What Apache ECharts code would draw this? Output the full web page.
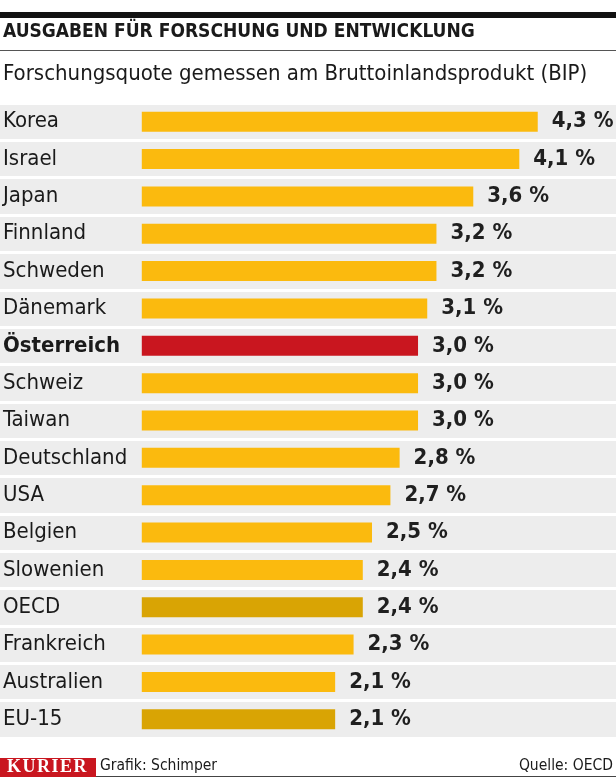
<!DOCTYPE html>
<html>
<head>
<meta charset="utf-8">
<script src="https://cdn.jsdelivr.net/npm/echarts@6/dist/echarts.min.js"></script>
<style>
html,body{margin:0;padding:0;background:#fff;}
#chart{width:616px;height:777px;}
</style>
</head>
<body>
<div id="chart"></div>
<script>
const categories = ["Korea","Israel","Japan","Finnland","Schweden","Dänemark","Österreich","Schweiz","Taiwan","Deutschland","USA","Belgien","Slowenien","OECD","Frankreich","Australien","EU-15"];
const values = [4.3,4.1,3.6,3.2,3.2,3.1,3.0,3.0,3.0,2.8,2.7,2.5,2.4,2.4,2.3,2.1,2.1];
const kinds = ["c","c","c","c","c","c","h","c","c","c","c","c","c","a","c","c","a"];
const titleText = "AUSGABEN FÜR FORSCHUNG UND ENTWICKLUNG";
const subtitleText = "Forschungsquote gemessen am Bruttoinlandsprodukt (BIP)";
const footerLeft = "Grafik: Schimper";
const footerRight = "Quelle: OECD";
const brandText = "KURIER";

const FONT = '"DejaVu Sans Condensed","Liberation Sans Narrow",sans-serif';
const kindColor = {c:'#fbba0e', h:'#c9161f', a:'#d9a404'};

const chart = echarts.init(document.getElementById('chart'), null, {renderer:'canvas'});
chart.setOption({
  animation:false,
  backgroundColor:'#ffffff',
  grid:{left:0, right:0, top:103, height:635},
  xAxis:{type:'value', min:-1.54, max:5.15, show:false},
  yAxis:{
    type:'category', inverse:true, data:categories,
    axisLine:{show:false}, axisTick:{show:false},
    splitArea:{show:true, areaStyle:{color:['#ededed','#ededed']}},
    splitLine:{show:true, lineStyle:{color:'#ffffff', width:3}},
    axisLabel:{
      inside:true, margin:3, align:'left', color:'#1a1a1a',
      fontFamily:FONT, fontSize:22,
      formatter:function(v){ const i=categories.indexOf(v); return kinds[i]==='h' ? '{b|'+v+'}' : v; },
      rich:{b:{fontWeight:'bold', fontFamily:FONT, fontSize:22, color:'#1a1a1a'}}
    }
  },
  series:[{
    type:'bar', barWidth:20, z:3,
    data: values.map((v,i)=>({value:v, itemStyle:{color:kindColor[kinds[i]]}})),
    label:{show:true, position:'right', distance:14, color:'#1f1f1f',
      fontFamily:FONT, fontWeight:'bold', fontSize:22,
      formatter:p=>p.value.toFixed(1).replace('.',',')+' %'}
  }],
  graphic:[
    {type:'rect', shape:{x:0,y:12,width:616,height:6}, style:{fill:'#111'}},
    {type:'text', left:3, top:23, style:{text:titleText, fontFamily:FONT, fontWeight:'bold', fontSize:19, fill:'#1a1a1a'}},
    {type:'rect', shape:{x:0,y:50,width:616,height:1}, style:{fill:'#555'}},
    {type:'text', left:3, top:63, style:{text:subtitleText, fontFamily:FONT, fontSize:22, fill:'#1a1a1a'}},
    {type:'rect', shape:{x:0,y:758,width:96,height:19}, style:{fill:'#c9161f'}},
    {type:'text', left:7, top:758, style:{text:brandText.split('').join('\u200A'), fontFamily:'"Liberation Serif","DejaVu Serif",serif', fontWeight:'bold', fontSize:18, fill:'#fff'}},
    {type:'text', left:100, top:758, style:{text:footerLeft, fontFamily:FONT, fontSize:15.5, fill:'#1a1a1a'}},
    {type:'text', right:3, top:758, style:{text:footerRight, fontFamily:FONT, fontSize:15.5, fill:'#1a1a1a'}},
    {type:'rect', shape:{x:96,y:776,width:520,height:1}, style:{fill:'#444'}}
  ]
});
</script>
</body>
</html>
